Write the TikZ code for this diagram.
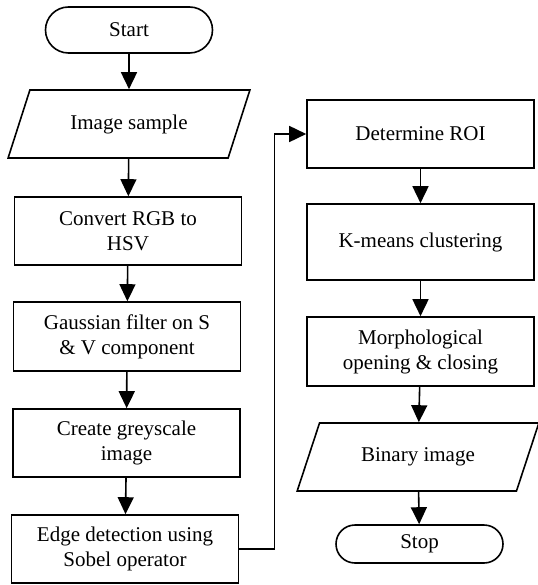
\documentclass[tikz,border=0pt]{standalone}
\usepackage{fontspec}
\setmainfont{Liberation Serif}
\newfontfamily\tnr{Liberation Serif}
\usetikzlibrary{arrows.meta,shapes.geometric}
\begin{document}
\begin{tikzpicture}[x=1pt,y=-1pt,
  every node/.style={font=\tnr\fontsize{21}{25}\selectfont, align=center, inner sep=0pt},
  box/.style={draw, line width=1.6pt, rectangle, minimum width=227pt, minimum height=68pt},
  term/.style={draw, line width=1.6pt, rectangle, rounded corners=#1, minimum width=167pt},
  io/.style={draw, line width=1.6pt, trapezium, trapezium left angle=#1, trapezium right angle=180-#1, minimum height=68pt, minimum width=242pt, trapezium stretches=true},
  flow/.style={line width=1.6pt, -{Triangle[length=17pt,width=16pt]}}
]
\useasboundingbox (0,0) rectangle (537,585);
\node[term=23pt, minimum height=46pt] (start) at (129,30) {Start};
\node[io=56] (img) at (129,124) {Image sample};
\node[box] (hsv) at (128,231) {Convert RGB to\\HSV};
\node[box, minimum height=69pt] (gauss) at (127,336.5) {Gaussian filter on S\\\& V component};
\node[box] (grey) at (126.5,443) {Create greyscale\\image};
\node[box] (edge) at (125,549) {Edge detection using\\Sobel operator};
\node[box] (roi) at (420.5,134) {Determine ROI};
\node[box, minimum height=76pt] (km) at (420.5,242) {K-means clustering};
\node[box, minimum height=69pt] (morph) at (420.5,351.5) {Morphological\\opening \& closing};
\node[io=55] (bin) at (418,457) {Binary image};
\node[term=19pt, minimum height=38pt] (stop) at (419.5,544) {Stop};
\draw[flow] (start) -- (img);
\draw[flow] (img) -- (hsv);
\draw[flow] (hsv) -- (gauss);
\draw[flow] (gauss) -- (grey);
\draw[flow] (grey) -- (edge);
\draw[flow] (edge.east) -- ++(35,0) |- (roi.west);
\draw[flow] (roi) -- (km);
\draw[flow] (km) -- (morph);
\draw[flow] (morph) -- (bin);
\draw[flow] (bin) -- (stop);
\end{tikzpicture}
\end{document}
